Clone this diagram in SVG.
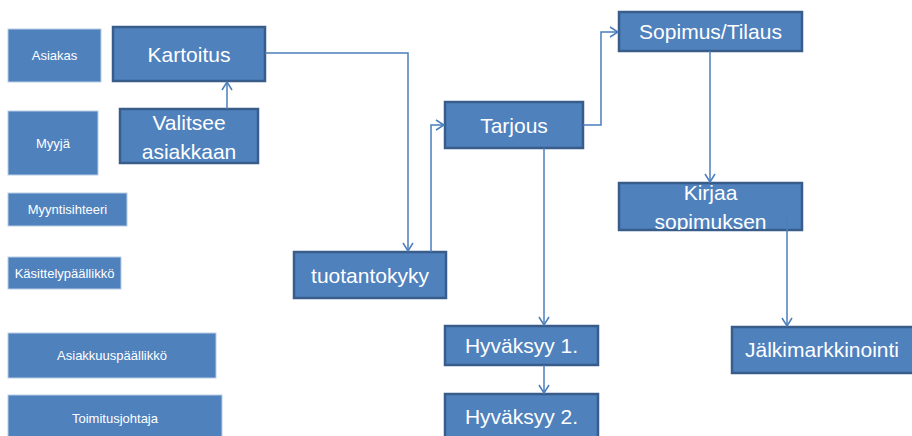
<svg xmlns="http://www.w3.org/2000/svg" width="912" height="436" viewBox="0 0 912 436">
<style>
.role rect{fill:#4F81BD;stroke:#B9CDE5;stroke-width:1}
.role text{fill:#fff;font-family:"Liberation Sans",Arial,sans-serif;font-size:13px;text-anchor:middle}
.step rect{fill:#4F81BD;stroke:#385D8A;stroke-width:2.5}
.step text{fill:#fff;font-family:"Liberation Sans",Arial,sans-serif;font-size:21px;text-anchor:middle}
.conn path{fill:none;stroke:#4A7EBB;stroke-width:1.5}
</style>
<defs>
<marker id="arr" viewBox="0 0 10 12" refX="9" refY="6" markerWidth="10" markerHeight="12" markerUnits="userSpaceOnUse" orient="auto">
<path d="M1,1 L9,6 L1,11" fill="none" stroke="#4A7EBB" stroke-width="1.5"/>
</marker>
<clipPath id="kclip"><rect x="619" y="183" width="183" height="47"/></clipPath>
</defs>
<rect width="912" height="436" fill="#fff"/>
<g id="asiakas" class="role"><rect x="8" y="29" width="93" height="53"/><text x="54.5" y="60">Asiakas</text></g>
<g id="myyja" class="role"><rect x="8" y="111" width="90" height="64"/><text x="53" y="148">Myyjä</text></g>
<g id="myyntisihteeri" class="role"><rect x="8" y="193" width="119" height="33"/><text x="67.5" y="214">Myyntisihteeri</text></g>
<g id="kasittelypaallikko" class="role"><rect x="8" y="257" width="113" height="32"/><text x="64.5" y="278">Käsittelypäällikkö</text></g>
<g id="asiakkuuspaallikko" class="role"><rect x="8" y="333" width="208" height="45"/><text x="112" y="360">Asiakkuuspäällikkö</text></g>
<g id="toimitusjohtaja" class="role"><rect x="8" y="395" width="214" height="45"/><text x="115" y="423">Toimitusjohtaja</text></g>

<g id="kartoitus" class="step"><rect x="113" y="27" width="152" height="54"/><text x="189" y="62" font-size="22">Kartoitus</text></g>
<g id="valitsee" class="step"><rect x="120" y="109" width="138" height="54"/><text x="189" y="130">Valitsee</text><text x="189" y="159">asiakkaan</text></g>
<g id="tuotantokyky" class="step"><rect x="294" y="252" width="152" height="46"/><text x="370" y="283">tuotantokyky</text></g>
<g id="tarjous" class="step"><rect x="445" y="102" width="138" height="46"/><text x="514" y="133">Tarjous</text></g>
<g id="sopimus" class="step"><rect x="619" y="12" width="183" height="39"/><text x="710.5" y="39">Sopimus/Tilaus</text></g>
<g id="kirjaa" class="step"><rect x="619" y="183" width="183" height="47"/><text x="710.5" y="200">Kirjaa</text><text x="710.5" y="229" clip-path="url(#kclip)">sopimuksen</text></g>
<g id="hyvaksyy1" class="step"><rect x="445" y="326" width="153" height="39"/><text x="521.5" y="353">Hyväksyy 1.</text></g>
<g id="hyvaksyy2" class="step"><rect x="445" y="394" width="153" height="46"/><text x="521.5" y="424">Hyväksyy 2.</text></g>
<g id="jalkimarkkinointi" class="step"><rect x="732" y="327" width="182" height="46"/><text x="822" y="357">Jälkimarkkinointi</text></g>

<g id="connectors" class="conn">
<path d="M227,109 L227,82" marker-end="url(#arr)"/>
<path d="M265,53 L408,53 L408,251" marker-end="url(#arr)"/>
<path d="M431,252 L431,125 L444,125" marker-end="url(#arr)"/>
<path d="M583,125 L601,125 L601,32 L618,32" marker-end="url(#arr)"/>
<path d="M710,51 L710,182" marker-end="url(#arr)"/>
<path d="M787,215 L787,326" marker-end="url(#arr)"/>
<path d="M544,148 L544,325" marker-end="url(#arr)"/>
<path d="M544,365 L544,393" marker-end="url(#arr)"/>
</g>
</svg>
